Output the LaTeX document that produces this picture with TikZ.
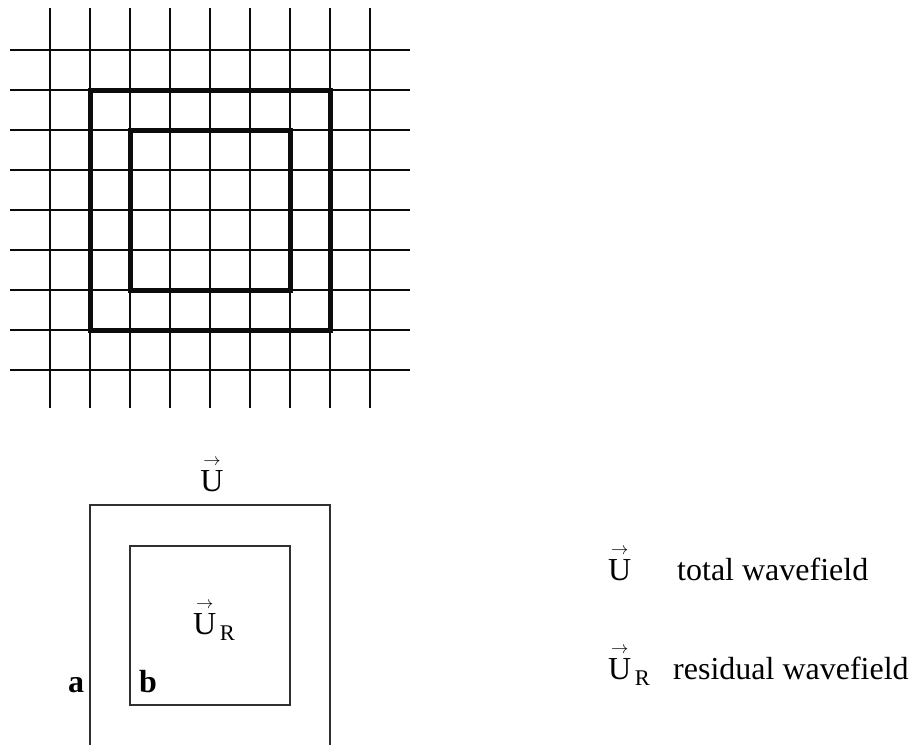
\documentclass[tikz,border=0pt]{standalone}
\usepackage{amsmath}
\usepackage{fontspec}
\setmainfont{Liberation Serif}
\usepackage{xcolor}
\usepackage{tikz}
\usetikzlibrary{positioning}
\definecolor{ink}{HTML}{0B0B0B}
\definecolor{frame}{HTML}{303030}
\newcommand{\Uvec}{\ensuremath{\overset{\scriptscriptstyle\rightarrow}{\text{U}}}}
\newcommand{\URvec}{\ensuremath{\Uvec_{\,\text{R}}}}

\begin{document}
\begin{tikzpicture}[x=1pt,y=-1pt,
    gridline/.style={ink,line width=1.6pt},
    thickbox/.style={ink,line width=5pt},
    thinbox/.style={frame,line width=2pt},
    lbl/.style={font=\fontsize{32}{38}\selectfont,inner sep=0pt,anchor=base}]
  \useasboundingbox (0,0) rectangle (912,744);
  \foreach \x in {50,90,...,370}{
    \draw[gridline] (\x,8) -- (\x,408);}
  \foreach \y in {50,90,...,370}{
    \draw[gridline] (10,\y) -- (410,\y);}
  \draw[thickbox] (90,90) rectangle (330,330);
  \draw[thickbox] (130,130) rectangle (290,290);
  \draw[thinbox] (90,746) -- (90,505) -- (330,505) -- (330,746);
  \draw[thinbox] (130,546) rectangle (290,705);
  \node[lbl] (utop) at (212,491) {\Uvec};
  \node[lbl,anchor=base west] (ures) at (193,634) {\URvec};
  \node[lbl,anchor=base west] (la) at (68,692) {\textbf{a}};
  \node[lbl,anchor=base west] (lb) at (139,692) {\textbf{b}};
  \node[lbl,anchor=base west] (keyu) at (608,580) {\Uvec};
  \node[lbl,anchor=base west] (keyutxt) at (677,580) {total wavefield};
  \node[lbl,anchor=base west] (keyr) at (608,679) {\URvec};
  \node[lbl,anchor=base west] (keyrtxt) at (673,679) {residual wavefield};
\end{tikzpicture}
\end{document}
